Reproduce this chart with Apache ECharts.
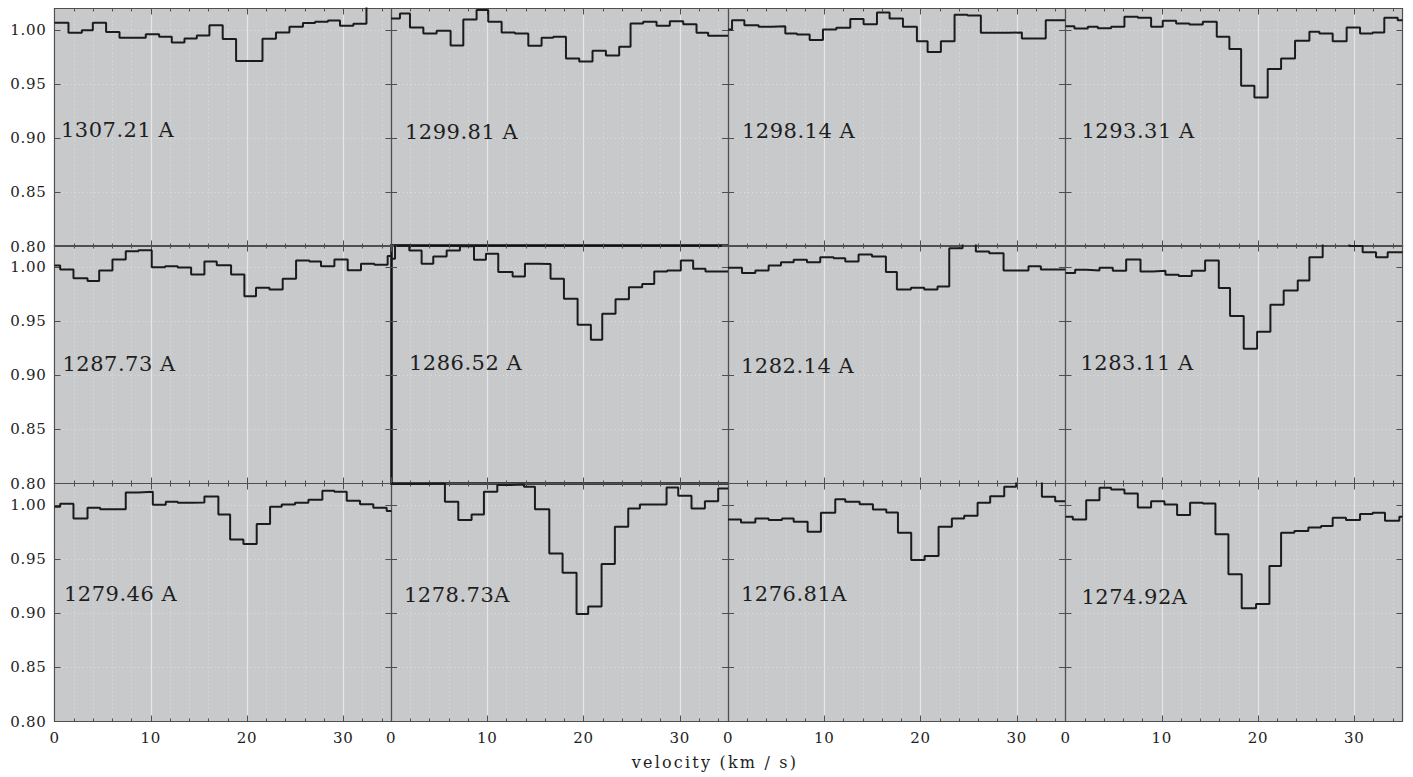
<!DOCTYPE html>
<html>
<head>
<meta charset="utf-8">
<script src="https://cdn.jsdelivr.net/npm/echarts@6/dist/echarts.min.js"></script>
<style>
html,body{margin:0;padding:0;background:#ffffff;}
#chart{width:1413px;height:777px;}
#chart text{letter-spacing:0.7px;}
#chart text[style*="21px"]{letter-spacing:0.5px;}
#chart text[style*="16px"]{letter-spacing:2.2px;}
</style>
</head>
<body>
<div id="chart"></div>
<script>
// ---------------- data ----------------
const panelLabels = ['1307.21 A','1299.81 A','1298.14 A','1293.31 A',
                     '1287.73 A','1286.52 A','1282.14 A','1283.11 A',
                     '1279.46 A','1278.73A','1276.81A','1274.92A'];
const xAxisName = 'velocity (km / s)';
const xTickLabels = [0, 10, 20, 30];
const yTickLabels = [0.80, 0.85, 0.90, 0.95, 1.00];

// bin edges (km/s) and normalised flux per bin
const vel1 = [0, 1.45, 2.84, 3.98, 5.36, 6.75, 8.03, 9.48, 10.87, 12.18, 13.5, 14.78, 16.09, 17.47, 18.86, 20.2, 21.6, 23.0, 24.4, 25.8, 27.06, 28.4, 29.65, 31.04, 32.4, 33.75, 35];
const flux1 = [1.0068, 0.9975, 1.000, 1.0068, 0.9982, 0.9929, 0.9929, 0.9963, 0.9938, 0.9886, 0.9923, 0.9951, 1.0046, 0.9917, 0.9714, 0.9714, 0.992, 0.9978, 1.0031, 1.0065, 1.0077, 1.0089, 1.004, 1.0058, 1.03, 1.03];

const vel2 = [0, 0.93, 1.97, 3.36, 4.74, 6.19, 7.51, 8.89, 10.1, 11.49, 12.87, 14.26, 15.64, 16.85, 18.17, 19.55, 20.93, 22.32, 23.7, 24.88, 26.19, 27.58, 28.96, 30.35, 31.73, 32.94, 35];
const flux2 = [1.0108, 1.0154, 1.0025, 0.9969, 0.9994, 0.9858, 1.0098, 1.0185, 1.0077, 0.9978, 0.9969, 0.9855, 0.9929, 0.9938, 0.9738, 0.9711, 0.9809, 0.9766, 0.9846, 1.0062, 1.0077, 1.004, 1.0083, 1.0055, 0.9975, 0.9948];

const vel3 = [0, 0.42, 1.70, 3.18, 4.57, 5.95, 7.16, 8.48, 9.86, 11.25, 12.70, 14.08, 15.47, 16.78, 18.17, 19.62, 20.73, 22.11, 23.53, 24.88, 26.26, 27.75, 29.13, 30.52, 31.73, 33.0, 35];
const flux3 = [1.0006, 1.0092, 1.0046, 1.0031, 1.0037, 0.9969, 0.996, 0.9908, 1.0006, 1.0022, 1.0102, 1.0055, 1.0163, 1.0108, 1.0031, 0.9898, 0.9797, 0.9898, 1.0142, 1.0135, 0.9975, 0.9975, 0.9978, 0.9923, 0.9923, 1.0092];

const vel4 = [0, 0.93, 2.32, 3.36, 4.74, 6.12, 7.51, 8.89, 10.1, 11.49, 12.87, 14.26, 15.71, 17.02, 18.24, 19.62, 21.0, 22.39, 23.84, 25.33, 26.37, 27.75, 29.2, 30.59, 31.9, 33.11, 34.5, 35];
const flux4 = [1.0037, 1.0015, 1.0031, 1.0018, 1.0031, 1.0123, 1.0114, 1.0031, 1.0086, 1.0062, 1.0052, 1.0077, 0.9938, 0.9825, 0.9486, 0.9378, 0.964, 0.9738, 0.9902, 0.9985, 0.9969, 0.9898, 1.0025, 0.9969, 0.9978, 1.0114, 1.0092];

const vel5 = [0, 0.59, 1.97, 3.43, 4.64, 6.02, 7.40, 8.72, 10.1, 11.49, 12.8, 14.19, 15.57, 16.85, 18.34, 19.72, 20.93, 22.32, 23.70, 25.09, 26.47, 27.68, 29.07, 30.45, 31.83, 33.22, 34.6, 35];
const flux5 = [1.0015, 0.9978, 0.9898, 0.9871, 0.9969, 1.0071, 1.0148, 1.0157, 1.0, 1.0009, 0.9997, 0.9932, 1.0052, 1.0018, 0.9932, 0.9732, 0.9809, 0.9794, 0.9892, 1.0062, 1.0052, 1.0009, 1.0071, 0.9972, 1.0031, 1.0022, 1.0102];

const vel6 = [0, 0.42, 1.9, 3.18, 4.39, 5.78, 7.16, 8.62, 9.86, 11.14, 12.63, 13.91, 15.3, 16.57, 17.96, 19.38, 20.76, 21.94, 23.32, 24.71, 26.09, 27.34, 28.69, 30.1, 31.38, 32.66, 35];
const flux6 = [1.0077, 1.021, 1.0154, 1.0031, 1.0098, 1.0154, 1.0194, 1.0068, 1.0123, 0.9954, 0.9914, 1.0031, 1.0028, 0.9892, 0.9708, 0.9468, 0.9329, 0.9569, 0.9702, 0.9815, 0.9843, 0.996, 0.9969, 1.0062, 0.9985, 0.996];

const vel7 = [0, 1.45, 2.84, 4.22, 5.5, 6.82, 8.2, 9.58, 10.97, 12.18, 13.56, 14.95, 16.4, 17.54, 19.0, 20.38, 21.76, 22.98, 24.36, 25.74, 27.13, 28.62, 29.9, 31.21, 32.49, 35];
const flux7 = [0.9994, 0.9945, 0.9969, 1.0015, 1.0046, 1.0068, 1.0046, 1.0092, 1.0083, 1.0052, 1.0117, 1.0098, 0.9954, 0.9794, 0.9809, 0.9794, 0.9822, 1.0175, 1.03, 1.0145, 1.0129, 0.9969, 0.9969, 1.0009, 0.9978];

const vel8 = [0, 1.0, 2.15, 3.53, 4.91, 6.3, 7.79, 9.07, 10.38, 11.76, 13.11, 14.5, 15.92, 17.09, 18.51, 19.9, 21.28, 22.66, 24.12, 25.33, 26.71, 28.1, 29.48, 30.86, 32.25, 33.46, 35];
const flux8 = [0.9945, 0.9975, 0.9969, 0.9994, 0.9966, 1.0071, 0.996, 0.9966, 0.9929, 0.9917, 0.9966, 1.0062, 0.9806, 0.9548, 0.9246, 0.9403, 0.9652, 0.9785, 0.9877, 1.0092, 1.03, 1.03, 1.0195, 1.0138, 1.0092, 1.0138];

const vel9 = [0, 0.59, 1.97, 3.43, 4.74, 6.02, 7.40, 8.72, 10.21, 11.56, 12.8, 14.19, 15.57, 17.02, 18.24, 19.62, 21.0, 22.39, 23.6, 24.98, 26.37, 27.82, 29.07, 30.35, 31.73, 33.11, 34.5, 35];
const flux9 = [0.9985, 1.0012, 0.9877, 0.9975, 0.9963, 0.9963, 1.0117, 1.0123, 1.0003, 1.0031, 1.0022, 1.0025, 1.008, 0.9914, 0.9683, 0.964, 0.9825, 0.9985, 1.0006, 1.0022, 1.0049, 1.0132, 1.0123, 1.004, 1.0009, 0.9975, 0.9945];

const vel10 = [0, 3.01, 5.6, 6.99, 8.37, 9.65, 11.04, 12.42, 13.81, 14.95, 16.44, 17.82, 19.27, 20.48, 21.87, 23.25, 24.64, 25.85, 27.23, 28.62, 29.83, 31.21, 32.6, 33.98, 35];
const flux10 = [1.0195, 1.02, 1.0031, 0.9862, 0.9914, 1.0123, 1.0185, 1.0191, 1.0169, 0.9963, 0.9554, 0.9375, 0.8994, 0.9062, 0.9455, 0.98, 0.9969, 1.0006, 1.0006, 1.0163, 1.0086, 0.9969, 1.0037, 1.0154];

const vel11 = [0, 1.35, 2.84, 4.22, 5.61, 6.82, 8.27, 9.65, 11.14, 12.18, 13.67, 15.05, 16.44, 17.65, 19.03, 20.42, 21.87, 23.25, 24.53, 25.92, 27.23, 28.69, 29.93, 31.28, 32.6, 33.98, 35];
const flux11 = [0.9868, 0.984, 0.9877, 0.9862, 0.9877, 0.9846, 0.9754, 0.9929, 1.0055, 1.0031, 1.0009, 0.996, 0.9932, 0.9745, 0.9492, 0.9529, 0.98, 0.9877, 0.9902, 1.0022, 1.0083, 1.0169, 1.03, 1.03, 1.0077, 1.0037];

const vel12 = [0, 0.76, 2.15, 3.53, 4.74, 6.12, 7.51, 8.89, 10.28, 11.59, 12.94, 14.26, 15.57, 16.92, 18.3, 19.79, 21.18, 22.39, 23.77, 25.22, 26.54, 27.75, 29.13, 30.59, 31.9, 33.18, 34.67, 35];
const flux12 = [0.9892, 0.9868, 1.0046, 1.016, 1.0145, 1.0108, 0.9978, 1.0037, 1.0006, 0.9908, 1.0022, 1.0015, 0.9732, 0.936, 0.9046, 0.9086, 0.9437, 0.9745, 0.976, 0.9794, 0.9806, 0.9883, 0.9862, 0.9917, 0.9929, 0.9855, 0.9892];

const velSets = [vel1, vel2, vel3, vel4, vel5, vel6, vel7, vel8, vel9, vel10, vel11, vel12];
const fluxSets = [flux1, flux2, flux3, flux4, flux5, flux6, flux7, flux8, flux9, flux10, flux11, flux12];

// ---------------- layout ----------------
const colLeft = [54.5, 391, 728, 1065.5];
const rowTop = [8.5, 245.5, 483.5];
const PW = 337, PH = 238;
const labelOffset = [[6.5,121.5],[14,123],[14,122],[16,122],[8,118],[18,117.5],[13,120.5],[15,117.5],[9.5,110],[13,111],[13,110],[16,113]];
const FONT = 'DejaVu Serif';
const FRAME = '#4f4f4f';
const BG = '#c8c9cb';
const TXT = '#1e1e1e';

const grids = [], xAxes = [], yAxes = [], series = [], graphics = [];
for (let i = 0; i < 12; i++) {
  const r = Math.floor(i / 4), c = i % 4;
  const special = (i === 5);
  grids.push({left: colLeft[c], top: rowTop[r], width: PW, height: PH, show: true,
    backgroundColor: BG, borderWidth: 0, containLabel: false, outerBoundsMode: 'none'});
  const xMin = xTickLabels[0];
  // bottom minor (dotted grid + short ticks)
  xAxes.push({type: 'value', gridIndex: i, position: 'bottom', min: xMin, max: 35, interval: 2,
    axisLine: {show: false}, axisLabel: {show: false},
    axisTick: {show: true, inside: true, length: 3, lineStyle: {color: FRAME, width: 1}},
    splitLine: {show: true, lineStyle: {color: '#dedede', type: [1, 3], width: 1}}});
  // bottom major
  xAxes.push({type: 'value', gridIndex: i, position: 'bottom', min: xMin, max: 35, interval: 10,
    axisLine: {show: true, onZero: false, lineStyle: {color: special ? '#111' : FRAME, width: special ? 2.5 : 1.2}},
    axisTick: {show: true, inside: true, length: 6, lineStyle: {color: FRAME, width: 1}},
    axisLabel: {show: r === 2, showMaxLabel: false, margin: 9, fontSize: 15, fontFamily: FONT, color: TXT},
    splitLine: {show: true, lineStyle: {color: '#e6e6e6', width: 1.2}}});
  // top minor
  xAxes.push({type: 'value', gridIndex: i, position: 'top', min: xMin, max: 35, interval: 2,
    axisLine: {show: false}, axisLabel: {show: false}, splitLine: {show: false},
    axisTick: {show: true, inside: true, length: 3, lineStyle: {color: FRAME, width: 1}}});
  // top major
  xAxes.push({type: 'value', gridIndex: i, position: 'top', min: xMin, max: 35, interval: 10,
    axisLine: {show: true, onZero: false, lineStyle: {color: special ? '#111' : FRAME, width: special ? 2.5 : 1.2}},
    axisLabel: {show: false}, splitLine: {show: false},
    axisTick: {show: true, inside: true, length: 6, lineStyle: {color: FRAME, width: 1}}});
  // y left
  yAxes.push({type: 'value', gridIndex: i, position: 'left', min: yTickLabels[0], max: 1.02, interval: 0.05,
    axisLine: {show: true, onZero: false, lineStyle: {color: special ? '#111' : FRAME, width: special ? 2.5 : 1.2}},
    axisTick: {show: true, inside: true, length: 6, lineStyle: {color: FRAME, width: 1}},
    axisLabel: {show: c === 0, showMaxLabel: false, margin: 8, fontSize: 15, fontFamily: FONT, color: TXT,
      formatter: v => v.toFixed(2)},
    splitLine: {show: true, lineStyle: {color: '#dedede', type: [1, 3], width: 1}}});
  // y right
  yAxes.push({type: 'value', gridIndex: i, position: 'right', min: yTickLabels[0], max: 1.02, interval: 0.05,
    axisLine: {show: true, onZero: false, lineStyle: {color: FRAME, width: 1.2}},
    axisTick: {show: true, inside: true, length: 6, lineStyle: {color: FRAME, width: 1}},
    axisLabel: {show: false}, splitLine: {show: false}});

  const vel = velSets[i], flux = fluxSets[i];
  const pts = vel.map((v, k) => [v, flux[Math.min(k, flux.length - 1)]]);
  series.push({type: 'line', xAxisIndex: 4 * i + 1, yAxisIndex: 2 * i, step: 'end',
    symbol: 'none', showSymbol: false, clip: true, silent: true, z: 5,
    lineStyle: {color: '#1b1b1b', width: 2}, data: pts});

  graphics.push({type: 'text', x: colLeft[c] + labelOffset[i][0], y: rowTop[r] + labelOffset[i][1], z: 10,
    style: {text: panelLabels[i], fontSize: 21, fontFamily: FONT, fill: TXT,
      textAlign: 'left', textVerticalAlign: 'middle', align: 'left', verticalAlign: 'middle'}});
}
graphics.push({type: 'text', x: 715, y: 762, z: 10,
  style: {text: xAxisName, fontSize: 16, fontFamily: FONT, fill: TXT,
    textAlign: 'center', textVerticalAlign: 'middle', align: 'center', verticalAlign: 'middle'}});

const chart = echarts.init(document.getElementById('chart'), null, {renderer: 'svg', width: 1413, height: 777});
chart.setOption({
  animation: false,
  backgroundColor: '#ffffff',
  grid: grids, xAxis: xAxes, yAxis: yAxes, series: series, graphic: graphics
});
</script>
</body>
</html>
